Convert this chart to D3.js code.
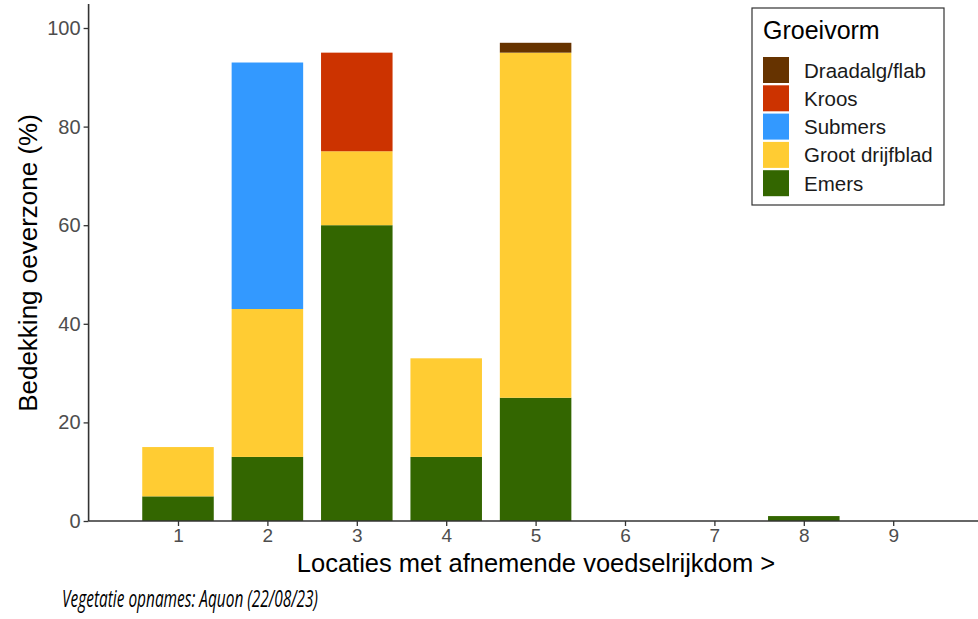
<!DOCTYPE html>
<html>
<head>
<meta charset="utf-8">
<script src="https://cdn.jsdelivr.net/npm/d3@7"></script>
<style>
  body { margin: 0; background: #fff; }
  svg { display: block; font-family: "Liberation Sans", Arial, sans-serif; }
</style>
</head>
<body>
<div id="chart"></div>
<script>
// data
const locaties = [1, 2, 3, 4, 5, 6, 7, 8, 9];
const groeivormen = ["Emers", "Groot drijfblad", "Submers", "Kroos", "Draadalg/flab"];
const emers = [5, 13, 60, 13, 25, 0, 0, 1, 0];
const grootDrijfblad = [10, 30, 15, 20, 70, 0, 0, 0, 0];
const submers = [0, 50, 0, 0, 0, 0, 0, 0, 0];
const kroos = [0, 0, 20, 0, 0, 0, 0, 0, 0];
const draadalg = [0, 0, 0, 0, 2, 0, 0, 0, 0];
const kleuren = ["#336600", "#FFCC33", "#3399FF", "#CC3300", "#663300"];
const yTicks = [0, 20, 40, 60, 80, 100];

const W = 978, H = 619;
const FONT = "'Liberation Sans', Arial, sans-serif";
const left = 88.6;

const svg = d3.select("#chart").append("svg")
  .attr("width", W).attr("height", H);

// scales
const x = d3.scaleLinear().domain([0, 10]).range([left, 982.6]);
const y = d3.scaleLinear().domain([0, 100]).range([521, 28]);
const kleur = d3.scaleOrdinal().domain(groeivormen).range(kleuren);
const barW = (x(1) - x(0)) * 0.8;

// stack
const rows = locaties.map((l, i) => ({
  locatie: l,
  "Emers": emers[i],
  "Groot drijfblad": grootDrijfblad[i],
  "Submers": submers[i],
  "Kroos": kroos[i],
  "Draadalg/flab": draadalg[i]
}));
const series = d3.stack().keys(groeivormen)(rows);

svg.append("g").selectAll("g")
  .data(series).enter().append("g")
  .attr("fill", d => kleur(d.key))
  .selectAll("rect")
  .data(d => d.filter(p => p[1] - p[0] > 0))
  .enter().append("rect")
  .attr("x", d => x(d.data.locatie) - barW / 2)
  .attr("width", barW)
  .attr("y", d => y(d[1]))
  .attr("height", d => y(d[0]) - y(d[1]));

// y axis
const yAxis = svg.append("g")
  .attr("transform", `translate(${left},0)`)
  .attr("font-family", FONT)
  .call(d3.axisLeft(y).tickValues(yTicks).tickSize(5).tickPadding(3));
yAxis.select(".domain").attr("d", `M0,${y(0)}V4`).attr("stroke", "#333").attr("stroke-width", 1.6);
yAxis.selectAll(".tick line").attr("stroke", "#333").attr("stroke-width", 1.3);
yAxis.selectAll(".tick text").attr("fill", "#4d4d4d").attr("font-size", 20);

// x axis
const xAxis = svg.append("g")
  .attr("transform", `translate(0,${y(0)})`)
  .attr("font-family", FONT)
  .call(d3.axisBottom(x).tickValues(locaties).tickFormat(d3.format("d")).tickSize(5).tickPadding(3));
xAxis.select(".domain").attr("d", `M${left},0H${W}`).attr("stroke", "#333").attr("stroke-width", 1.6);
xAxis.selectAll(".tick line").attr("stroke", "#333").attr("stroke-width", 1.3);
xAxis.selectAll(".tick text").attr("fill", "#4d4d4d").attr("font-size", 19);

// axis titles
svg.append("text")
  .attr("transform", `translate(37,263) rotate(-90)`)
  .attr("text-anchor", "middle")
  .style("font-size", "26px")
  .text("Bedekking oeverzone (%)");

svg.append("text")
  .attr("x", 536).attr("y", 572)
  .attr("text-anchor", "middle")
  .style("font-size", "25.5px")
  .text("Locaties met afnemende voedselrijkdom >");

// caption
svg.append("text")
  .attr("x", 62).attr("y", 607)
  .style("font-family", "'Liberation Sans Narrow', 'Open Sans', sans-serif")
  .style("font-style", "italic")
  .style("font-size", "23px")
  .attr("textLength", 256)
  .attr("lengthAdjust", "spacingAndGlyphs")
  .text("Vegetatie opnames: Aquon (22/08/23)");

// legend
const lg = svg.append("g").attr("transform", "translate(752,8)");
lg.append("rect")
  .attr("width", 192).attr("height", 197)
  .attr("fill", "#fff").attr("stroke", "#333").attr("stroke-width", 1.2);
lg.append("text")
  .attr("x", 11).attr("y", 31)
  .style("font-size", "25px")
  .text("Groeivorm");
const items = lg.selectAll(".item")
  .data(groeivormen.slice().reverse())
  .enter().append("g")
  .attr("class", "item")
  .attr("transform", (d, i) => `translate(11,${49 + i * 28.3})`);
items.append("rect")
  .attr("width", 26).attr("height", 26)
  .attr("fill", d => kleur(d));
items.append("text")
  .attr("x", 41).attr("y", 20.5)
  .style("font-size", "20.5px")
  .attr("fill", "#1a1a1a")
  .text(d => d);
</script>
</body>
</html>
